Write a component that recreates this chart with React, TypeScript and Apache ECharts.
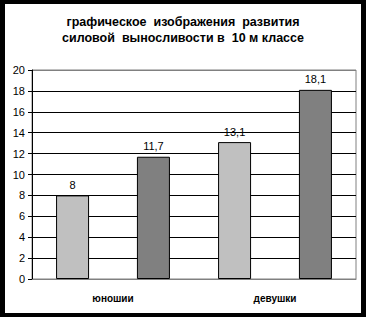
import React, { useEffect, useRef } from "react";
import * as echarts from "echarts";

const categories = ["юношии", "девушки"];
const seriesA = [8, 11.7];
const seriesB = [13.1, 18.1];
const yTicks = [0, 2, 4, 6, 8, 10, 12, 14, 16, 18, 20];

// Values by bar position: first bar of each group, second bar of each group
const firstBars = [seriesA[0], seriesB[0]];
const secondBars = [seriesA[1], seriesB[1]];

const fmt = (v: number) => String(v).replace(".", ",");

export default function App() {
  const ref = useRef<HTMLDivElement>(null);
  useEffect(() => {
    if (!ref.current) return;
    const chart = echarts.init(ref.current, null, { renderer: "svg" });
    const font = "'Liberation Sans', Arial, sans-serif";
    const splitColors = yTicks.map((t, i) =>
      i === 0 || i === yTicks.length - 1 ? "#808080" : "#000000"
    );
    chart.setOption({
      animation: false,
      backgroundColor: "#ffffff",
      title: {
        text: "графическое  изображения  развития\nсиловой  выносливости в  10 м классе",
        left: "center",
        top: 9,
        textStyle: {
          fontFamily: font,
          fontWeight: "bold",
          fontSize: 12.5,
          lineHeight: 16,
          color: "#000",
        },
      },
      grid: {
        left: 32,
        right: 10,
        top: 70,
        bottom: 38,
        show: true,
        borderColor: "#808080",
        borderWidth: 1,
        backgroundColor: "transparent",
      },
      xAxis: {
        type: "category",
        data: categories,
        axisLine: { show: true, lineStyle: { color: "#808080", width: 1 } },
        axisTick: { show: false },
        axisLabel: {
          fontFamily: font,
          fontWeight: "bold",
          fontSize: 10,
          color: "#000",
          margin: 14,
        },
      },
      yAxis: {
        type: "value",
        min: 0,
        max: 20,
        interval: 2,
        axisLine: { show: true, lineStyle: { color: "#000", width: 1 } },
        axisTick: { show: true, length: 4, lineStyle: { color: "#000" } },
        axisLabel: {
          fontFamily: font,
          fontSize: 11,
          color: "#000",
          margin: 7,
        },
        splitLine: { show: true, lineStyle: { color: splitColors, width: 1 } },
      },
      series: [
        {
          type: "bar",
          data: firstBars,
          barWidth: 33,
          barGap: "145%",
          itemStyle: { color: "#C0C0C0", borderColor: "#000", borderWidth: 1 },
          label: {
            show: true,
            position: "top",
            distance: 5,
            fontFamily: font,
            fontSize: 11,
            color: "#000",
            formatter: (p: any) => fmt(p.value),
          },
        },
        {
          type: "bar",
          data: secondBars,
          barWidth: 33,
          barGap: "145%",
          itemStyle: { color: "#808080", borderColor: "#000", borderWidth: 1 },
          label: {
            show: true,
            position: "top",
            distance: 5,
            fontFamily: font,
            fontSize: 11,
            color: "#000",
            formatter: (p: any) => fmt(p.value),
          },
        },
      ],
      graphic: [
        { type: "rect", left: 0, top: 0, shape: { width: 366, height: 4 }, style: { fill: "#000" }, z: 100 },
        { type: "rect", left: 0, top: 313, shape: { width: 366, height: 4 }, style: { fill: "#000" }, z: 100 },
        { type: "rect", left: 0, top: 0, shape: { width: 5, height: 317 }, style: { fill: "#000" }, z: 100 },
        { type: "rect", left: 361, top: 0, shape: { width: 5, height: 317 }, style: { fill: "#000" }, z: 100 },
      ],
    });
    return () => chart.dispose();
  }, []);
  return (
    <div
      ref={ref}
      style={{ position: "fixed", left: 0, top: 0, width: 366, height: 317 }}
    />
  );
}
